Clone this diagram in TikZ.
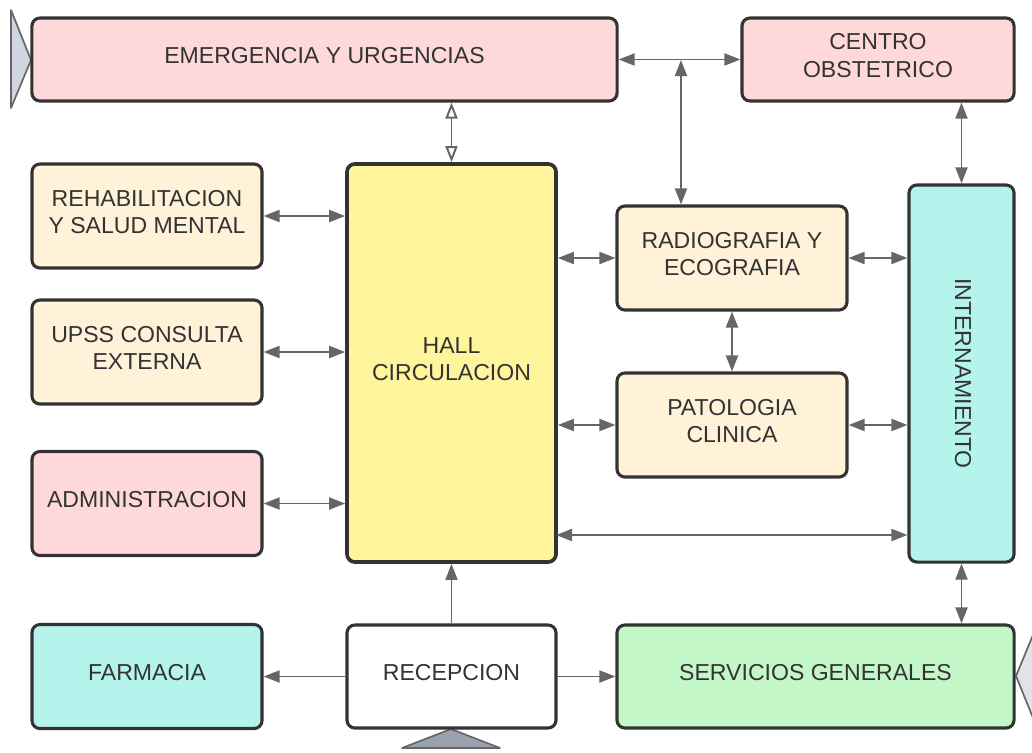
\documentclass[tikz,border=0pt]{standalone}
\usepackage{fontspec}
\setmainfont{Liberation Sans}
\usetikzlibrary{arrows.meta}
\definecolor{rosa}{HTML}{FFD9DA}
\definecolor{crema}{HTML}{FFF2D9}
\definecolor{amar}{HTML}{FFF59D}
\definecolor{celes}{HTML}{B5F4EC}
\definecolor{verde}{HTML}{C3F7C8}
\definecolor{borde}{HTML}{333333}
\definecolor{flecha}{HTML}{666666}
\tikzset{x=0.025cm, y=-0.025cm}
\tikzset{
    area/.style={draw=borde, line width=2.2pt, rounded corners=0.2cm,
    	align=center, text=borde, inner sep=0pt, text depth=0.2cm,
    	font=\fontsize{16.4}{19.3}\selectfont},
    lado/.style={area, minimum width=5.75cm, minimum height=2.6cm},
    flch/.style={draw=flecha, line width=1.4pt,
    	{Triangle[length=0.4cm, width=0.3cm]}-{Triangle[length=0.4cm, width=0.3cm]}},
    uno/.style={draw=flecha, line width=1.4pt, -{Triangle[length=0.4cm, width=0.3cm]}},
    hueco/.style={draw=flecha, line width=1.4pt,
    	{Triangle[open, length=0.4cm, width=0.3cm]}-{Triangle[open, length=0.4cm, width=0.3cm]}},
    pico/.style={draw=flecha, line width=1.2pt, line join=round}
}

\begin{document}
\begin{tikzpicture}
	\useasboundingbox (0,0) rectangle (1032,752);
	% accesos
	\draw[pico, fill={rgb,255:red,207;green,214;blue,224}] (11,10) -- (31,60) -- (11,108) -- cycle;
	\draw[pico, fill={rgb,255:red,154;green,162;blue,174}] (402,748) -- (451,729) -- (500,748) -- cycle;
	\draw[pico, fill={rgb,255:red,224;green,228;blue,234}] (1040,618) -- (1016,676) -- (1040,735) -- cycle;
	% areas
	\node [area, fill=rosa, minimum width=14.625cm, minimum height=2.075cm] (emerg) at (324.5,59.5) {EMERGENCIA Y URGENCIAS};
	\node [area, fill=rosa, minimum width=6.8cm, minimum height=2.075cm] (centro) at (878,59.5) {CENTRO\\OBSTETRICO};
	\node [area, fill=amar, line width=2.6pt, minimum width=5.225cm, minimum height=9.95cm] (hall) at (451.5,363) {HALL\\CIRCULACION};
	\node [lado, fill=crema] (rehab) at (147,216) {REHABILITACION\\Y SALUD MENTAL};
	\node [lado, fill=crema] (upss) at (147,352) {UPSS CONSULTA\\EXTERNA};
	\node [lado, fill=rosa] (admin) at (147,503.5) {ADMINISTRACION};
	\node [lado, fill=crema] (radio) at (732,258) {RADIOGRAFIA Y\\ECOGRAFIA};
	\node [lado, fill=crema] (pato) at (732,425) {PATOLOGIA\\CLINICA};
	\node [area, fill=celes, minimum width=2.625cm, minimum height=9.425cm] (intern) at (961.5,373.5) {};
	\node [rotate=-90, text=borde, font=\fontsize{16.4}{19.3}\selectfont] (interntxt) at (963,373.5) {INTERNAMIENTO};
	\node [lado, fill=celes] (farm) at (147,676.5) {FARMACIA};
	\node [area, fill=white, minimum width=5.225cm, minimum height=2.575cm] (recep) at (451.5,676.5) {RECEPCION};
	\node [area, fill=verde, minimum width=9.925cm, minimum height=2.575cm] (serv) at (815.5,676.5) {SERVICIOS GENERALES};
	% conexiones
	\coordinate (j) at (681,60);
	\coordinate (hi) at (556,535);
	\draw[flch] (emerg.east) -- (centro.west);
	\draw[flch] (j) -- (j |- radio.north);
	\draw[hueco] (hall.north |- emerg.south) -- (hall.north);
	\draw[flch] (intern.north |- centro.south) -- (intern.north);
	\draw[flch] (rehab.east) -- (rehab.east -| hall.west);
	\draw[flch] (upss.east) -- (upss.east -| hall.west);
	\draw[flch] (admin.east) -- (admin.east -| hall.west);
	\draw[flch] (radio.west -| hall.east) -- (radio.west);
	\draw[flch] (pato.west -| hall.east) -- (pato.west);
	\draw[flch] (radio.east) -- (radio.east -| intern.west);
	\draw[flch] (pato.east) -- (pato.east -| intern.west);
	\draw[flch] (radio.south) -- (pato.north);
	\draw[flch] (hi) -- (hi -| intern.west);
	\draw[flch] (intern.south) -- (intern.south |- serv.north);
	\draw[uno] (recep.north) -- (hall.south);
	\draw[uno] (recep.west) -- (farm.east);
	\draw[uno] (recep.east) -- (serv.west);
\end{tikzpicture}
\end{document}
